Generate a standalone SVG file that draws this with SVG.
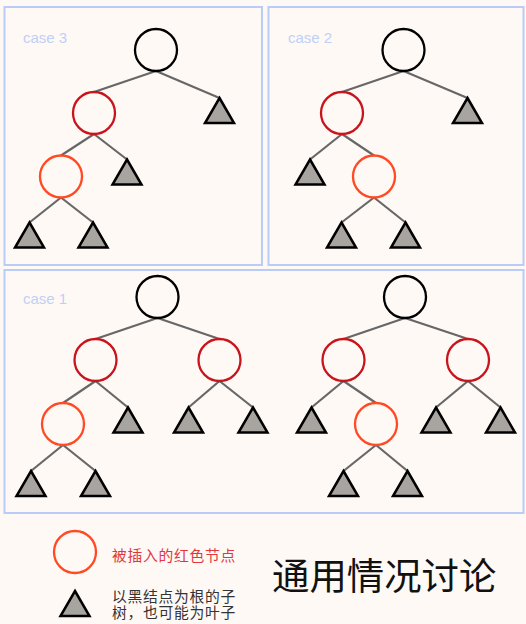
<svg xmlns="http://www.w3.org/2000/svg" xmlns:xlink="http://www.w3.org/1999/xlink" width="526" height="624" viewBox="0 0 526 624">
<style>
.box{fill:none;stroke:#B9CCF7;stroke-width:2}
.lbl{font-family:"Liberation Sans",Arial,sans-serif;font-size:15px;fill:#BFD0F7}
.edge{stroke:#676767;stroke-width:2.2;fill:none}
.blk{fill:none;stroke:#000;stroke-width:2.3}
.red{fill:none;stroke:#C8141C;stroke-width:2.3}
.org{fill:none;stroke:#FF4A24;stroke-width:2.3}
.tri{fill:#A8A5A1;stroke:#000;stroke-width:2.5;stroke-linejoin:miter}
.cjk{font-family:"Noto Sans CJK SC","Noto Sans",sans-serif}
</style>
<defs>
<path id="t" d="M0,0 L14.5,25 L-14.5,25 Z"/>
</defs>
<rect width="526" height="624" fill="#FEF9F5"/>
<g id="frames">
<rect class="box" x="4.5" y="7" width="257.5" height="258"/>
<rect class="box" x="268.5" y="7" width="255" height="258"/>
<rect class="box" x="4.5" y="270" width="519" height="243"/>
<text class="lbl" x="23" y="42.5">case 3</text>
<text class="lbl" x="288" y="42.5">case 2</text>
<text class="lbl" x="23" y="303.5">case 1</text>
</g>
<g id="connectors">
<!-- case 3 -->
<line class="edge" x1="156" y1="71" x2="94" y2="92"/>
<line class="edge" x1="156" y1="71" x2="219.5" y2="98"/>
<line class="edge" x1="94" y1="134" x2="61" y2="155.5"/>
<line class="edge" x1="94" y1="134" x2="127" y2="159.5"/>
<line class="edge" x1="61" y1="197.5" x2="29.5" y2="222.5"/>
<line class="edge" x1="61" y1="197.5" x2="93" y2="222.5"/>
<!-- case 2 -->
<line class="edge" x1="403.5" y1="71" x2="342" y2="92"/>
<line class="edge" x1="403.5" y1="71" x2="467.5" y2="98"/>
<line class="edge" x1="342" y1="134" x2="310" y2="159.5"/>
<line class="edge" x1="342" y1="134" x2="374" y2="155.5"/>
<line class="edge" x1="374" y1="197.5" x2="341.5" y2="222.5"/>
<line class="edge" x1="374" y1="197.5" x2="405.5" y2="222.5"/>
<!-- case 1 left -->
<line class="edge" x1="157.5" y1="318" x2="95.5" y2="339"/>
<line class="edge" x1="157.5" y1="318" x2="219.5" y2="339"/>
<line class="edge" x1="95.5" y1="381" x2="63" y2="403"/>
<line class="edge" x1="95.5" y1="381" x2="128" y2="407.5"/>
<line class="edge" x1="219.5" y1="381" x2="188.5" y2="407.5"/>
<line class="edge" x1="219.5" y1="381" x2="253" y2="407.5"/>
<line class="edge" x1="63" y1="445" x2="31" y2="471"/>
<line class="edge" x1="63" y1="445" x2="95.5" y2="471"/>
<!-- case 1 right -->
<line class="edge" x1="405" y1="318" x2="343.5" y2="339"/>
<line class="edge" x1="405" y1="318" x2="468" y2="339"/>
<line class="edge" x1="343.5" y1="381" x2="311.5" y2="407.5"/>
<line class="edge" x1="343.5" y1="381" x2="376" y2="403"/>
<line class="edge" x1="468" y1="381" x2="436" y2="407.5"/>
<line class="edge" x1="468" y1="381" x2="500.5" y2="407.5"/>
<line class="edge" x1="376" y1="445" x2="343.5" y2="471"/>
<line class="edge" x1="376" y1="445" x2="407.5" y2="471"/>
</g>
<!-- case 3 nodes -->
<g id="c3-root"><circle class="blk" cx="156" cy="50" r="21"/></g>
<g id="c3-red"><circle class="red" cx="94" cy="113" r="21"/></g>
<g id="c3-tri-r"><use href="#t" class="tri" x="219.5" y="98"/></g>
<g id="c3-new"><circle class="org" cx="61" cy="176.5" r="21"/></g>
<g id="c3-tri-m"><use href="#t" class="tri" x="127" y="159.5"/></g>
<g id="c3-tri-b1"><use href="#t" class="tri" x="29.5" y="222.5"/></g>
<g id="c3-tri-b2"><use href="#t" class="tri" x="93" y="222.5"/></g>
<!-- case 2 nodes -->
<g id="c2-root"><circle class="blk" cx="403.5" cy="50" r="21"/></g>
<g id="c2-red"><circle class="red" cx="342" cy="113" r="21"/></g>
<g id="c2-tri-r"><use href="#t" class="tri" x="467.5" y="98"/></g>
<g id="c2-tri-l"><use href="#t" class="tri" x="310" y="159.5"/></g>
<g id="c2-new"><circle class="org" cx="374" cy="176.5" r="21"/></g>
<g id="c2-tri-b1"><use href="#t" class="tri" x="341.5" y="222.5"/></g>
<g id="c2-tri-b2"><use href="#t" class="tri" x="405.5" y="222.5"/></g>
<!-- case 1 left nodes -->
<g id="c1a-root"><circle class="blk" cx="157.5" cy="297" r="21"/></g>
<g id="c1a-red-l"><circle class="red" cx="95.5" cy="360" r="21"/></g>
<g id="c1a-red-r"><circle class="red" cx="219.5" cy="360" r="21"/></g>
<g id="c1a-new"><circle class="org" cx="63" cy="424" r="21"/></g>
<g id="c1a-tri-m"><use href="#t" class="tri" x="128" y="407.5"/></g>
<g id="c1a-tri-r1"><use href="#t" class="tri" x="188.5" y="407.5"/></g>
<g id="c1a-tri-r2"><use href="#t" class="tri" x="253" y="407.5"/></g>
<g id="c1a-tri-b1"><use href="#t" class="tri" x="31" y="471"/></g>
<g id="c1a-tri-b2"><use href="#t" class="tri" x="95.5" y="471"/></g>
<!-- case 1 right nodes -->
<g id="c1b-root"><circle class="blk" cx="405" cy="297" r="21"/></g>
<g id="c1b-red-l"><circle class="red" cx="343.5" cy="360" r="21"/></g>
<g id="c1b-red-r"><circle class="red" cx="468" cy="360" r="21"/></g>
<g id="c1b-tri-l"><use href="#t" class="tri" x="311.5" y="407.5"/></g>
<g id="c1b-new"><circle class="org" cx="376" cy="424" r="21"/></g>
<g id="c1b-tri-r1"><use href="#t" class="tri" x="436" y="407.5"/></g>
<g id="c1b-tri-r2"><use href="#t" class="tri" x="500.5" y="407.5"/></g>
<g id="c1b-tri-b1"><use href="#t" class="tri" x="343.5" y="471"/></g>
<g id="c1b-tri-b2"><use href="#t" class="tri" x="407.5" y="471"/></g>
<!-- legend -->
<g id="legend-new">
<circle class="org" cx="75" cy="552" r="21"/>
<text class="cjk" x="112" y="560.5" font-size="14.8" letter-spacing="0.7" fill="#E2363E">被插入的红色节点</text>
</g>
<g id="legend-tri">
<use href="#t" class="tri" x="75" y="591"/>
<text class="cjk" font-size="14.8" letter-spacing="0.7" fill="#333"><tspan x="112" y="602">以黑结点为根的子</tspan><tspan x="112" y="618">树，也可能为叶子</tspan></text>
</g>
<g id="title">
<text class="cjk" x="272" y="590" font-size="37.4" fill="#111">通用情况讨论</text>
</g>
</svg>
